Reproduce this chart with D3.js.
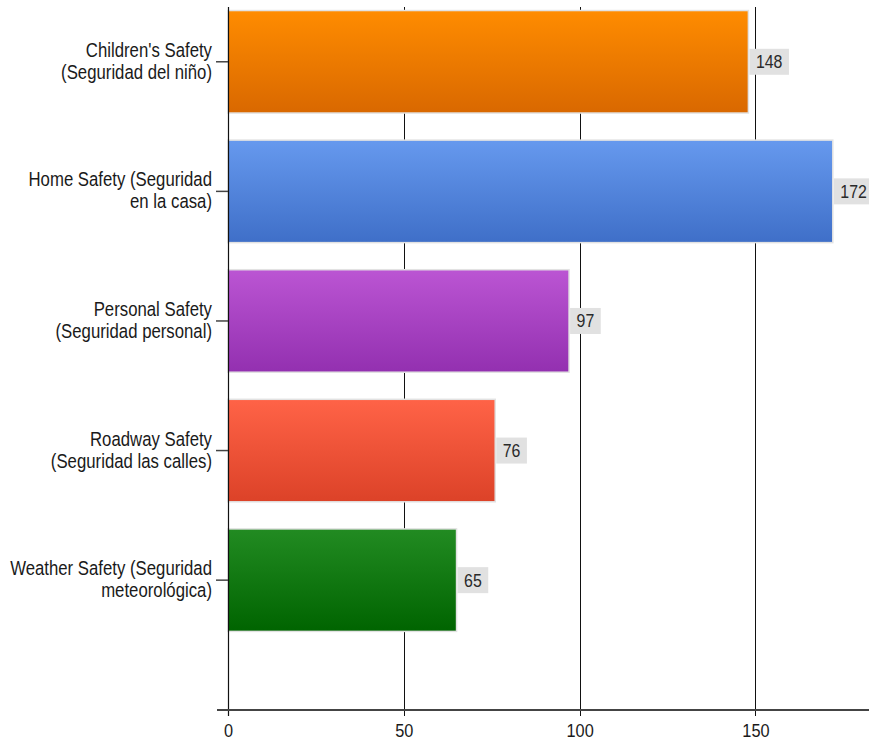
<!DOCTYPE html>
<html>
<head>
<meta charset="utf-8">
<script src="https://cdn.jsdelivr.net/npm/d3@7"></script>
<style>
  html, body { margin: 0; padding: 0; background: #fff; }
  svg { display: block; font-family: "Liberation Sans", Arial, sans-serif; }
</style>
</head>
<body>
<svg id="chart" width="869" height="741"></svg>
<script>
// Safety topics and their counts
const categories = [
  "Children's Safety (Seguridad del niño)",
  "Home Safety (Seguridad en la casa)",
  "Personal Safety (Seguridad personal)",
  "Roadway Safety (Seguridad las calles)",
  "Weather Safety (Seguridad meteorológica)"
];
const labelLines = [
  ["Children's Safety", "(Seguridad del niño)"],
  ["Home Safety (Seguridad", "en la casa)"],
  ["Personal Safety", "(Seguridad personal)"],
  ["Roadway Safety", "(Seguridad las calles)"],
  ["Weather Safety (Seguridad", "meteorológica)"]
];
const values = [148, 172, 97, 76, 65];
const xTicks = [0, 50, 100, 150];

// Gradient end colours per bar (top, bottom)
const topColors    = ["#ff8c00", "#6699ee", "#bb55d3", "#ff6347", "#228b22"];
const bottomColors = ["#d96800", "#3f6fc8", "#9330b0", "#dc4228", "#006400"];

const W = 869, H = 741;
const plot = { left: 228, right: 869, top: 7, bottom: 709 };
const squeeze = 0.86; // horizontal compression of the label face

const svg = d3.select("#chart");
const defs = svg.append("defs");

const x = d3.scaleLinear().domain([0, 182.3]).range([plot.left, plot.right]);
const y = d3.scaleBand()
  .domain(categories)
  .range([plot.top, plot.bottom])
  .paddingInner(0.209)
  .paddingOuter(0.313)
  .align(0.025);

// vertical gradients
categories.forEach((c, i) => {
  const g = defs.append("linearGradient")
    .attr("id", "grad" + i)
    .attr("x1", 0).attr("y1", 0).attr("x2", 0).attr("y2", 1);
  g.append("stop").attr("offset", "0%").attr("stop-color", topColors[i]);
  g.append("stop").attr("offset", "100%").attr("stop-color", bottomColors[i]);
});

// grid lines (with tick extensions below the axis)
svg.append("g")
  .selectAll("line")
  .data(xTicks.filter(t => t > 0))
  .join("line")
  .attr("x1", d => Math.round(x(d)) + 0.5)
  .attr("x2", d => Math.round(x(d)) + 0.5)
  .attr("y1", plot.top)
  .attr("y2", plot.bottom + 7)
  .attr("stroke", "#111")
  .attr("stroke-width", 1);

// bars
svg.append("g")
  .selectAll("rect")
  .data(values)
  .join("rect")
  .attr("x", x(0))
  .attr("y", (d, i) => y(categories[i]) + 1.5)
  .attr("width", d => x(d) - x(0))
  .attr("height", y.bandwidth())
  .attr("fill", (d, i) => `url(#grad${i})`)
  .attr("stroke", "#e2e2e2")
  .attr("stroke-width", 1.5);

// y axis line and category ticks
svg.append("line")
  .attr("x1", plot.left + 0.5).attr("x2", plot.left + 0.5)
  .attr("y1", plot.top).attr("y2", plot.bottom + 7)
  .attr("stroke", "#111").attr("stroke-width", 1.2);

svg.append("g")
  .selectAll("line")
  .data(categories)
  .join("line")
  .attr("x1", plot.left - 12).attr("x2", plot.left)
  .attr("y1", d => y(d) + 1.5 + y.bandwidth() / 2)
  .attr("y2", d => y(d) + 1.5 + y.bandwidth() / 2)
  .attr("stroke", "#444").attr("stroke-width", 1.5);

// x axis line
svg.append("line")
  .attr("x1", plot.left - 11).attr("x2", W)
  .attr("y1", plot.bottom + 1).attr("y2", plot.bottom + 1)
  .attr("stroke", "#444").attr("stroke-width", 2);

// x tick labels
svg.append("g")
  .selectAll("text")
  .data(xTicks)
  .join("text")
  .attr("transform", d => `translate(${x(d) + 0.5},${737}) scale(${squeeze},1)`)
  .attr("text-anchor", "middle")
  .attr("font-size", 19)
  .attr("fill", "#1a1a1a")
  .text(d => d);

// category labels, two lines centred on each bar
const catLabels = svg.append("g")
  .selectAll("g")
  .data(categories)
  .join("g");
catLabels.each(function(c, i) {
  const cy = y(c) + 1.5 + y.bandwidth() / 2;
  const lines = labelLines[i];
  lines.forEach((line, j) => {
    d3.select(this).append("text")
      .attr("transform", `translate(212,${cy + 6 + (j - (lines.length - 1) / 2) * 22}) scale(${squeeze},1)`)
      .attr("text-anchor", "end")
      .attr("font-size", 19.5)
      .attr("fill", "#1a1a1a")
      .text(line);
  });
});

// value labels in light boxes at bar ends
const valG = svg.append("g")
  .selectAll("g")
  .data(values)
  .join("g");
valG.each(function(v, i) {
  const g = d3.select(this);
  const cy = y(categories[i]) + 1.5 + y.bandwidth() / 2;
  const t = g.append("text")
    .attr("font-size", 18.5)
    .attr("fill", "#2a2a2a")
    .attr("text-anchor", "middle")
    .text(v);
  const tw = t.node().getComputedTextLength() * squeeze;
  const bw = tw + 13;
  const bx = x(v) + 1;
  g.insert("rect", "text")
    .attr("x", bx)
    .attr("y", cy - 13)
    .attr("width", bw)
    .attr("height", 26)
    .attr("fill", "#e1e1e1");
  t.attr("transform", `translate(${bx + bw / 2},${cy + 6.5}) scale(${squeeze},1)`);
});
</script>
</body>
</html>
